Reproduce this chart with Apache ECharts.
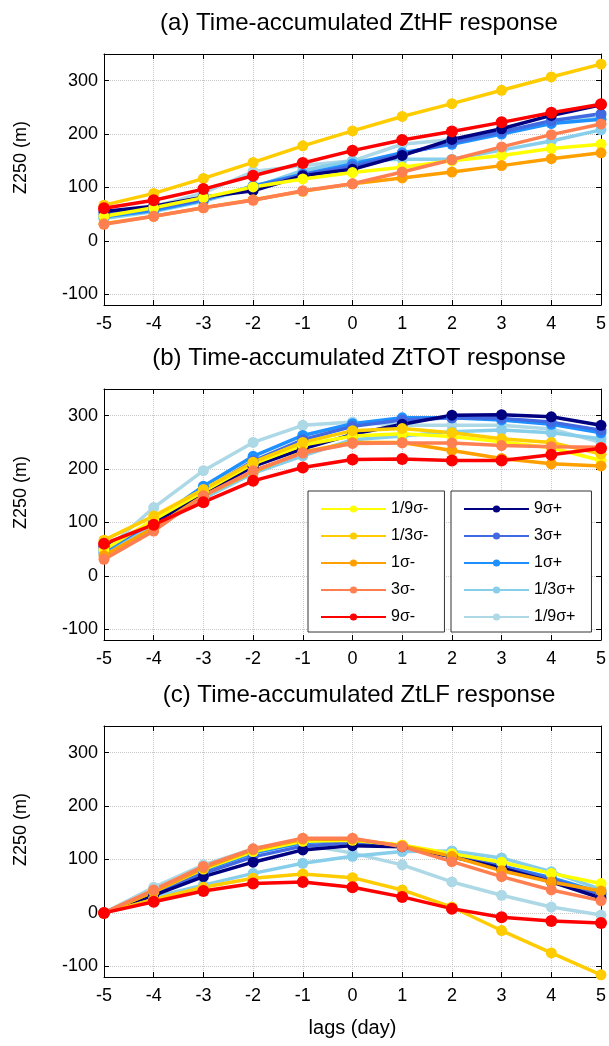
<!DOCTYPE html>
<html>
<head>
<meta charset="utf-8">
<script src="https://cdn.jsdelivr.net/npm/echarts@6/dist/echarts.min.js"></script>
<style>
  html, body { margin: 0; padding: 0; background: #fff; }
  #main { width: 609px; height: 1046px; }
</style>
</head>
<body>
<div id="main"></div>
<script>
// lags (day) on the x axis
const lags = [-5, -4, -3, -2, -1, 0, 1, 2, 3, 4, 5];
const yTicks = [-100, 0, 100, 200, 300];
const names = ['1/9σ-', '1/3σ-', '1σ-', '3σ-', '9σ-', '9σ+', '3σ+', '1σ+', '1/3σ+', '1/9σ+'];
const colors = ['#ffff00', '#ffcc00', '#ffa000', '#ff7f50', '#ff0000',
                '#000080', '#4169e1', '#1e90ff', '#87ceeb', '#add8e6'];
const titles = ['(a) Time-accumulated ZtHF response',
                '(b) Time-accumulated ZtTOT response',
                '(c) Time-accumulated ZtLF response'];

// (a) ZtHF
const hf_n19 = [46, 62, 81, 101, 116, 128, 138, 150, 160, 173, 181];
const hf_n13 = [67, 89, 117, 147, 178, 206, 233, 257, 282, 307, 331];
const hf_n1  = [32, 46, 62, 77, 93, 107, 118, 129, 141, 154, 165];
const hf_n3  = [31, 46, 62, 76, 94, 107, 129, 152, 176, 199, 219];
const hf_n9  = [61, 76, 97, 122, 146, 169, 189, 205, 222, 240, 256];
const hf_p9  = [55, 65, 82, 94, 122, 134, 160, 190, 210, 235, 255];
const hf_p3  = [50, 60, 78, 100, 124, 140, 162, 184, 204, 225, 238];
const hf_p1  = [45, 57, 76, 103, 125, 144, 165, 181, 200, 220, 228];
const hf_p13 = [42, 55, 74, 100, 132, 150, 153, 153, 170, 187, 208];
const hf_p19 = [44, 64, 90, 130, 141, 150, 181, 190, 207, 220, 235];

// (b) ZtTOT
const tot_n19 = [49, 105, 158, 210, 245, 262, 266, 261, 251, 240, 216];
const tot_n13 = [67, 112, 162, 213, 250, 272, 276, 268, 257, 250, 228];
const tot_n1  = [38, 90, 150, 195, 232, 250, 250, 235, 220, 210, 206];
const tot_n3  = [31, 84, 150, 197, 230, 248, 249, 249, 244, 242, 241];
const tot_n9  = [60, 96, 138, 178, 203, 218, 219, 216, 216, 227, 239];
const tot_p9  = [55, 100, 152, 205, 238, 265, 284, 301, 302, 298, 282];
const tot_p3  = [50, 100, 160, 215, 255, 280, 292, 296, 295, 288, 273];
const tot_p1  = [45, 103, 168, 224, 263, 285, 296, 296, 292, 284, 268];
const tot_p13 = [40, 95, 145, 192, 225, 255, 262, 270, 273, 268, 257];
const tot_p19 = [45, 128, 197, 250, 282, 288, 282, 282, 282, 275, 250];

// (c) ZtLF
const lf_n19 = [0, 40, 82, 115, 134, 136, 127, 111, 95, 74, 55];
const lf_n13 = [0, 25, 48, 65, 73, 66, 43, 11, -33, -75, -116];
const lf_n1  = [0, 40, 84, 118, 138, 138, 126, 106, 79, 58, 41];
const lf_n3  = [0, 43, 87, 120, 140, 140, 124, 96, 68, 43, 23];
const lf_n9  = [0, 21, 41, 55, 58, 48, 30, 8, -8, -15, -19];
const lf_p9  = [0, 33, 68, 95, 118, 126, 124, 105, 84, 58, 28];
const lf_p3  = [0, 36, 74, 105, 125, 132, 126, 108, 87, 63, 35];
const lf_p1  = [0, 38, 80, 112, 132, 136, 126, 108, 88, 66, 38];
const lf_p13 = [0, 30, 52, 74, 93, 106, 115, 116, 103, 77, 44];
const lf_p19 = [0, 48, 90, 120, 128, 112, 90, 58, 33, 11, -4];

const panels = [
  [hf_n19, hf_n13, hf_n1, hf_n3, hf_n9, hf_p9, hf_p3, hf_p1, hf_p13, hf_p19],
  [tot_n19, tot_n13, tot_n1, tot_n3, tot_n9, tot_p9, tot_p3, tot_p1, tot_p13, tot_p19],
  [lf_n19, lf_n13, lf_n1, lf_n3, lf_n9, lf_p9, lf_p3, lf_p1, lf_p13, lf_p19]
];

const font = "'Liberation Sans', Arial, Helvetica, sans-serif";
const gridTops = [54, 389, 726];
const gridH = 251;

const grids = [], xAxes = [], yAxes = [], series = [], title = [];
gridTops.forEach(function (top, i) {
  grids.push({ left: 104, right: 6, top: top, height: gridH });
  title.push({
    text: titles[i], left: 354, top: top - 48, textAlign: 'center',
    textStyle: { fontFamily: font, fontSize: 24, fontWeight: 'normal', color: '#000' }
  });
  xAxes.push({
    type: 'value', gridIndex: i, min: -5, max: 5, interval: 1,
    axisLine: { onZero: false, lineStyle: { color: '#000' } },
    axisTick: { inside: true, length: 5, lineStyle: { color: '#000' } },
    axisLabel: { color: '#000', fontFamily: font, fontSize: 18, margin: 10 },
    splitLine: { show: true, lineStyle: { color: '#c8c8c8', type: 'dotted' } },
    name: i === 2 ? 'lags (day)' : '', nameLocation: 'middle', nameGap: 41,
    nameTextStyle: { color: '#000', fontFamily: font, fontSize: 20 }
  });
  yAxes.push({
    type: 'value', gridIndex: i, min: -120, max: 350,
    axisLine: { show: true, onZero: false, lineStyle: { color: '#000' } },
    axisTick: { show: true, inside: true, length: 5, customValues: yTicks, lineStyle: { color: '#000' } },
    axisLabel: { color: '#000', fontFamily: font, fontSize: 18, margin: 6, customValues: yTicks },
    splitLine: { show: true, lineStyle: { color: '#c8c8c8', type: 'dotted' } },
    name: 'Z250 (m)', nameLocation: 'middle', nameGap: 74,
    nameTextStyle: { color: '#000', fontFamily: font, fontSize: 18, padding: [0, 0, 0, 44] }
  });
});
// box axes (top / right) with inward ticks
gridTops.forEach(function (top, i) {
  xAxes.push({
    type: 'value', gridIndex: i, position: 'top', min: -5, max: 5, interval: 1,
    axisLine: { onZero: false, lineStyle: { color: '#000' } },
    axisTick: { inside: true, length: 5, lineStyle: { color: '#000' } },
    axisLabel: { show: false }, splitLine: { show: false }
  });
  yAxes.push({
    type: 'value', gridIndex: i, position: 'right', min: -120, max: 350,
    axisLine: { show: true, onZero: false, lineStyle: { color: '#000' } },
    axisTick: { show: true, inside: true, length: 5, customValues: yTicks, lineStyle: { color: '#000' } },
    axisLabel: { show: false }, splitLine: { show: false }
  });
});

// plus series first, minus series on top (red last)
const order = [9, 8, 7, 6, 5, 0, 1, 2, 3, 4];
panels.forEach(function (vals, p) {
  order.forEach(function (k) {
    series.push({
      name: names[k], type: 'line', xAxisIndex: p, yAxisIndex: p,
      data: lags.map(function (x, j) { return [x, vals[k][j]]; }),
      symbol: 'circle', symbolSize: k === 4 ? 12 : 11,
      color: colors[k],
      lineStyle: { width: 3.5, color: colors[k] },
      itemStyle: { color: colors[k] },
      clip: false, animation: false
    });
  });
});

const legendBase = {
  orient: 'vertical', top: 491, itemWidth: 65, itemHeight: 9, itemGap: 9,
  itemTextGap: 7, padding: [9, 16, 6, 12],
  backgroundColor: '#fff', borderColor: '#333', borderWidth: 1, borderRadius: 0,
  textStyle: { fontFamily: font, fontSize: 16, color: '#000', lineHeight: 18 },
  selectedMode: false
};

const chart = echarts.init(document.getElementById('main'));
chart.setOption({
  animation: false,
  title: title,
  grid: grids,
  xAxis: xAxes,
  yAxis: yAxes,
  legend: [
    Object.assign({}, legendBase, { left: 308, data: names.slice(0, 5) }),
    Object.assign({}, legendBase, { left: 451, data: names.slice(5) })
  ],
  series: series
});
</script>
</body>
</html>
